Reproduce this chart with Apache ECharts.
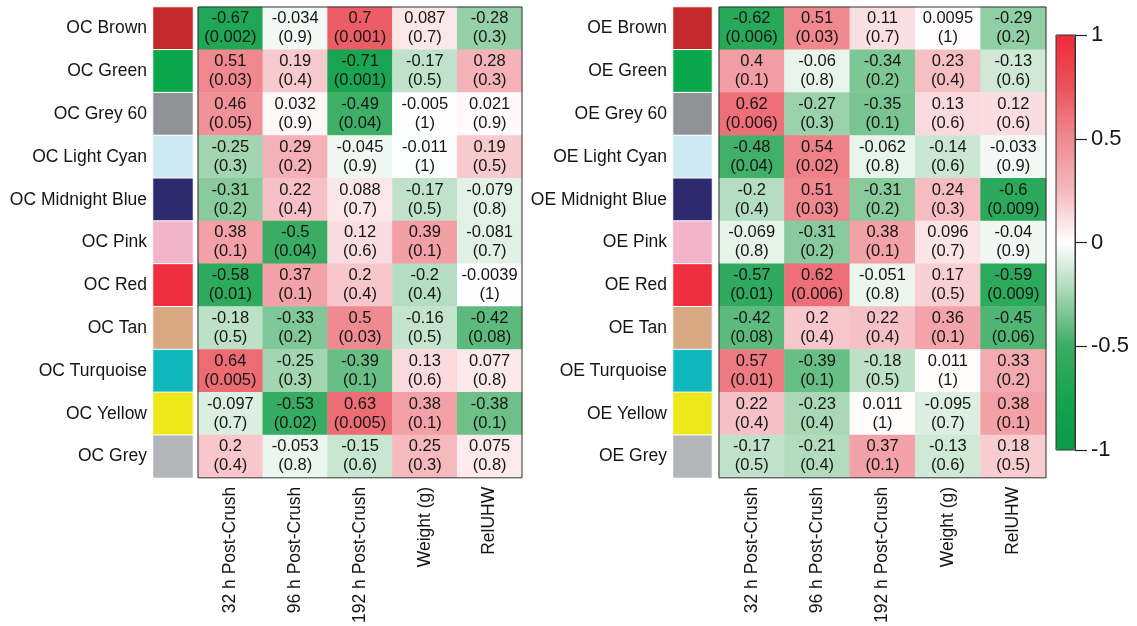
<!DOCTYPE html>
<html>
<head>
<meta charset="utf-8">
<script src="https://cdn.jsdelivr.net/npm/echarts@6/dist/echarts.min.js"></script>
<style>
  html, body { margin: 0; padding: 0; background: #fff; }
  #chart { width: 1137px; height: 626px; }
</style>
</head>
<body>
<div id="chart"></div>
<script>
// Trait columns shared by both panels
const traits = ['32 h Post-Crush', '96 h Post-Crush', '192 h Post-Crush', 'Weight (g)', 'RelUHW'];

// Module names and their colour swatches
const modules = ['Brown', 'Green', 'Grey 60', 'Light Cyan', 'Midnight Blue', 'Pink', 'Red', 'Tan', 'Turquoise', 'Yellow', 'Grey'];
const moduleColors = ['#c4282d', '#0aa84a', '#909296', '#cde9f1', '#2e2a6e', '#f2b4c8', '#ee2f3d', '#d8a882', '#10b7bc', '#ece81a', '#b4b6ba'];
const ocLabels = modules.map(m => 'OC ' + m);
const oeLabels = modules.map(m => 'OE ' + m);

// OC module-trait correlations (rows = modules, columns = traits)
const ocR = [
  [-0.67, -0.034, 0.7, 0.087, -0.28],
  [0.51, 0.19, -0.71, -0.17, 0.28],
  [0.46, 0.032, -0.49, -0.005, 0.021],
  [-0.25, 0.29, -0.045, -0.011, 0.19],
  [-0.31, 0.22, 0.088, -0.17, -0.079],
  [0.38, -0.5, 0.12, 0.39, -0.081],
  [-0.58, 0.37, 0.2, -0.2, -0.0039],
  [-0.18, -0.33, 0.5, -0.16, -0.42],
  [0.64, -0.25, -0.39, 0.13, 0.077],
  [-0.097, -0.53, 0.63, 0.38, -0.38],
  [0.2, -0.053, -0.15, 0.25, 0.075]
];
// OC p-values
const ocP = [
  [0.002, 0.9, 0.001, 0.7, 0.3],
  [0.03, 0.4, 0.001, 0.5, 0.3],
  [0.05, 0.9, 0.04, 1, 0.9],
  [0.3, 0.2, 0.9, 1, 0.5],
  [0.2, 0.4, 0.7, 0.5, 0.8],
  [0.1, 0.04, 0.6, 0.1, 0.7],
  [0.01, 0.1, 0.4, 0.4, 1],
  [0.5, 0.2, 0.03, 0.5, 0.08],
  [0.005, 0.3, 0.1, 0.6, 0.8],
  [0.7, 0.02, 0.005, 0.1, 0.1],
  [0.4, 0.8, 0.6, 0.3, 0.8]
];
// OE module-trait correlations
const oeR = [
  [-0.62, 0.51, 0.11, 0.0095, -0.29],
  [0.4, -0.06, -0.34, 0.23, -0.13],
  [0.62, -0.27, -0.35, 0.13, 0.12],
  [-0.48, 0.54, -0.062, -0.14, -0.033],
  [-0.2, 0.51, -0.31, 0.24, -0.6],
  [-0.069, -0.31, 0.38, 0.096, -0.04],
  [-0.57, 0.62, -0.051, 0.17, -0.59],
  [-0.42, 0.2, 0.22, 0.36, -0.45],
  [0.57, -0.39, -0.18, 0.011, 0.33],
  [0.22, -0.23, 0.011, -0.095, 0.38],
  [-0.17, -0.21, 0.37, -0.13, 0.18]
];
// OE p-values
const oeP = [
  [0.006, 0.03, 0.7, 1, 0.2],
  [0.1, 0.8, 0.2, 0.4, 0.6],
  [0.006, 0.3, 0.1, 0.6, 0.6],
  [0.04, 0.02, 0.8, 0.6, 0.9],
  [0.4, 0.03, 0.2, 0.3, 0.009],
  [0.8, 0.2, 0.1, 0.7, 0.9],
  [0.01, 0.006, 0.8, 0.5, 0.009],
  [0.08, 0.4, 0.4, 0.1, 0.06],
  [0.01, 0.1, 0.5, 1, 0.2],
  [0.4, 0.4, 1, 0.7, 0.1],
  [0.5, 0.4, 0.1, 0.6, 0.5]
];

// Colour-bar ticks
const scaleMin = -1, scaleMax = 1, scaleStep = 0.5;

const FONT = 'Liberation Sans, Arial, sans-serif';

function cells(r, p) {
  const out = [];
  r.forEach((row, i) => row.forEach((v, j) => out.push([j, i, v, p[i][j]])));
  return out;
}
function swatches() {
  return modules.map((m, i) => [0, i, i]);
}

const TOP = 7, HEIGHT = 471;
const panels = [
  { swLeft: 153, swWidth: 40, hmLeft: 198, hmWidth: 324, labels: ocLabels, r: ocR, p: ocP },
  { swLeft: 673, swWidth: 39, hmLeft: 719, hmWidth: 327, labels: oeLabels, r: oeR, p: oeP }
];

const grid = [], xAxis = [], yAxis = [], series = [];
panels.forEach((pn) => {
  const gSw = grid.length;
  grid.push({ left: pn.swLeft, top: TOP, width: pn.swWidth, height: HEIGHT });
  xAxis.push({ type: 'category', gridIndex: gSw, data: ['m'], show: false });
  yAxis.push({
    type: 'category', gridIndex: gSw, data: pn.labels, inverse: true,
    axisLine: { show: false }, axisTick: { show: false },
    axisLabel: { interval: 0, margin: 6, fontSize: 17.5, color: '#151515', fontFamily: FONT }
  });
  series.push({
    type: 'heatmap', xAxisIndex: gSw, yAxisIndex: gSw, data: swatches(),
    itemStyle: { borderColor: '#fff', borderWidth: 1 },
    emphasis: { disabled: true }, silent: true
  });

  const gHm = grid.length;
  grid.push({
    left: pn.hmLeft, top: TOP, width: pn.hmWidth, height: HEIGHT,
    show: true, borderColor: '#333', borderWidth: 1, z: 10
  });
  xAxis.push({
    type: 'category', gridIndex: gHm, data: traits, position: 'bottom',
    axisLine: { show: false }, axisTick: { show: false },
    axisLabel: { interval: 0, rotate: 90, margin: 9, fontSize: 17.5, color: '#151515', fontFamily: FONT }
  });
  yAxis.push({ type: 'category', gridIndex: gHm, data: pn.labels, inverse: true, show: false });
  series.push({
    type: 'heatmap', xAxisIndex: gHm, yAxisIndex: gHm, data: cells(pn.r, pn.p),
    label: {
      show: true, fontSize: 16.5, lineHeight: 19, color: '#151515', fontFamily: FONT,
      formatter: (d) => d.data[2] + '\n(' + d.data[3] + ')'
    },
    emphasis: { disabled: true }, silent: true
  });
});

// Colour-bar axis frame
const gBar = grid.length;
grid.push({ left: 1056, top: 35, width: 19, height: 415, show: true, borderColor: '#333', borderWidth: 1, z: 10 });
xAxis.push({ type: 'value', gridIndex: gBar, show: false });
yAxis.push({
  type: 'value', gridIndex: gBar, position: 'right', min: scaleMin, max: scaleMax, interval: scaleStep,
  z: 11,
  axisLine: { show: true, onZero: false, lineStyle: { color: '#333', width: 1 } },
  splitLine: { show: false },
  axisTick: { show: true, inside: false, length: 12, lineStyle: { color: '#222', width: 1.2 } },
  axisLabel: { fontSize: 22, margin: 16, padding: [6, 0, 0, 0], color: '#151515', fontFamily: FONT }
});

const option = {
  animation: false,
  backgroundColor: '#fff',
  grid, xAxis, yAxis, series,
  visualMap: [
    {
      type: 'continuous', seriesIndex: [1, 3], dimension: 2,
      min: scaleMin, max: scaleMax, calculable: false, hoverLink: false,
      left: 1056, top: 35, itemWidth: 19, itemHeight: 415, padding: 0,
      text: null, showLabel: false,
      inRange: {
        color: ['#0a9a47', '#14a450', '#3aad63', '#a3d5b1', '#ffffff', '#f5b9be', '#ef8a91', '#ec525b', '#ee2b38']
      }
    },
    {
      type: 'piecewise', seriesIndex: [0, 2], dimension: 2, show: false,
      pieces: moduleColors.map((c, i) => ({ value: i, color: c }))
    }
  ]
};

echarts.init(document.getElementById('chart'), null, { renderer: 'canvas' }).setOption(option);
</script>
</body>
</html>
